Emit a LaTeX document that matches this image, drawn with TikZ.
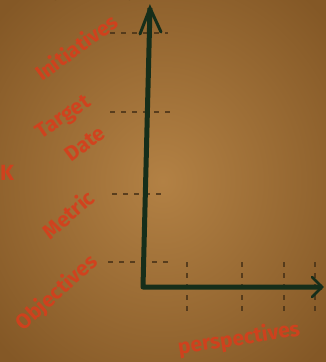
\documentclass[tikz,border=0pt]{standalone}
\usepackage{fontspec}
\setmainfont{Fira Sans}
\usetikzlibrary{arrows.meta}
\definecolor{paper}{RGB}{172,118,52}
\definecolor{paperdark}{RGB}{132,88,38}
\definecolor{ink}{RGB}{214,62,28}
\definecolor{axisgreen}{RGB}{22,46,26}
\definecolor{pencil}{RGB}{70,48,22}
\tikzset{
  lbl/.style={text=ink, font=\bfseries\fontsize{21}{21}\selectfont, inner sep=0pt, opacity=0.9},
  axisline/.style={draw=axisgreen, line width=5pt, line join=round},
  tickline/.style={draw=pencil, line width=1.3pt, dash pattern=on 5pt off 6pt, opacity=0.8},
}
\begin{document}
\begin{tikzpicture}[x=1pt,y=-1pt]
  \useasboundingbox (0,0) rectangle (325,362);
  \shade[inner color=paper!92!white, outer color=paperdark] (-60,-60) rectangle (385,422);
  % faint pencil marks at the top
  \draw[pencil, line width=2pt, opacity=0.7] (55,0) arc[start angle=180, end angle=240, radius=12];
  \draw[pencil, line width=2pt, opacity=0.7] (130,0) arc[start angle=0, end angle=-60, radius=12];
  % coordinates
  \coordinate (O) at (143,287);
  \coordinate (T) at (150,8);
  \coordinate (R) at (322,287);
  % ticks on vertical axis
  \coordinate (a1) at (110,33);  \coordinate (b1) at (168,33);
  \coordinate (a2) at (110,112); \coordinate (b2) at (170,112);
  \coordinate (a3) at (112,194); \coordinate (b3) at (166,194);
  \coordinate (a4) at (108,262); \coordinate (b4) at (170,262);
  \foreach \i in {1,2,3,4} \draw[tickline] (a\i) -- (b\i);
  % ticks on horizontal axis
  \foreach \x [count=\j] in {187,242,284,315} {
    \coordinate (c\j) at (\x,262);
    \coordinate (d\j) at (\x,313);
    \draw[tickline] (c\j) -- (d\j);
  }
  % axes
  \draw[axisline] (T) -- (O) -- (R);
  \draw[axisgreen, line width=3pt, line cap=round] (140,34) -- (T) -- (161,32);
  \draw[axisgreen, line width=2.5pt, line cap=round] (312,277) -- (R) -- (312,297);
  % labels
  \node[lbl, rotate=36] (init) at (76,47) {Initiatives};
  \node[lbl, rotate=34] (target) at (64,118) {Target};
  \node[lbl, rotate=37] (date) at (85,144) {Date};
  \node[lbl, rotate=41] (metric) at (68,214) {Metric};
  \node[lbl, rotate=42] (obj) at (57,293) {Objectives};
  \node[lbl, rotate=9] (persp) at (239,339) {perspectives};
  \node[lbl, font=\bfseries\fontsize{22}{22}\selectfont] (k) at (7,173) {K};
\end{tikzpicture}
\end{document}
